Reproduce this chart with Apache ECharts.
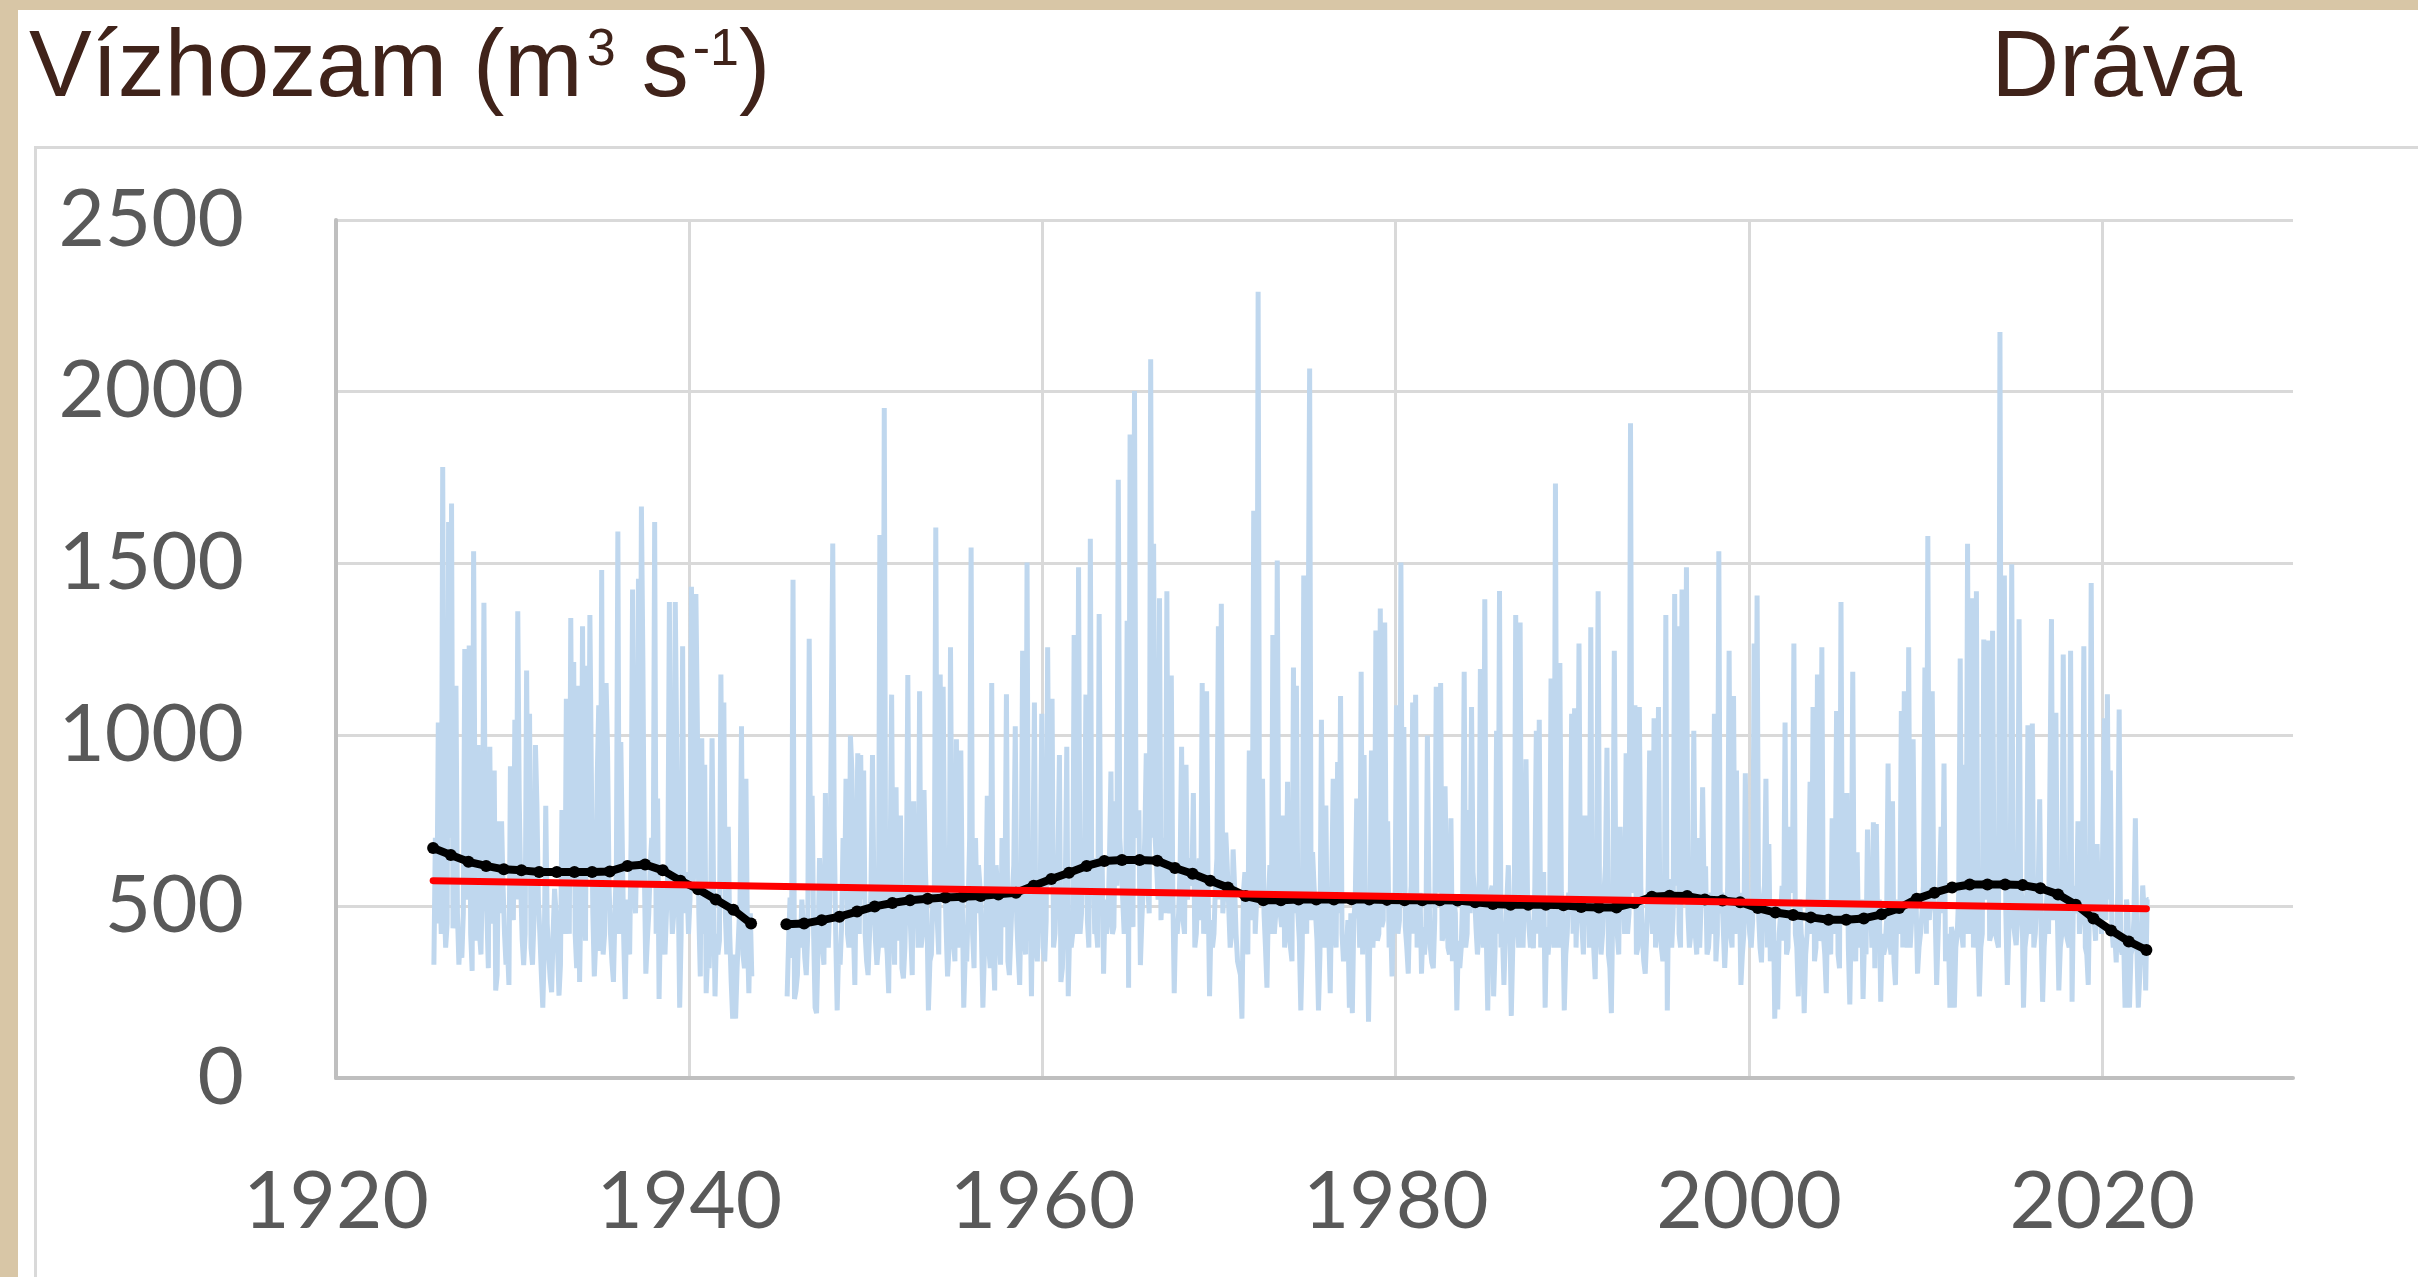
<!DOCTYPE html>
<html>
<head>
<meta charset="utf-8">
<title>Dráva vízhozam</title>
<script src="https://cdn.jsdelivr.net/npm/echarts@6/dist/echarts.min.js"></script>
<style>
  html, body { margin: 0; padding: 0; width: 2418px; height: 1277px; overflow: hidden; background: #d8c6a6; }
  .panel { position: absolute; left: 18px; top: 10px; right: 0; bottom: 0; background: #fff; }
  .frame { position: absolute; left: 34px; top: 146px; width: 2420px; height: 1200px; border: 3px solid #d9d9d9; }
  #chart { position: absolute; left: 0; top: 0; width: 2418px; height: 1277px; }
</style>
</head>
<body>
<div class="panel"></div>
<div class="frame"></div>
<div id="chart"></div>
<script>
// monthly discharge (m3/s), one row per year, Jan..Dec
// 1925-07 .. 1929-12
const flow1920s = [
  330, 700, 450, 1036, 620, 420,
  1780, 520, 380, 450, 1620, 700, 1674, 436, 520, 1143, 480, 330,
  420, 350, 480, 1250, 600, 520, 1260, 420, 312, 1535, 700, 400,
  970, 420, 360, 600, 1385, 620, 480, 320, 965, 450, 560, 896,
  255, 300, 748, 480, 748, 560, 420, 330, 380, 271, 908, 520
];
const flow1930s = [
  460, 1044, 520, 1360, 806, 560, 403, 329, 420, 1187, 600, 1061,
  380, 330, 460, 970, 797, 520, 420, 304, 205, 380, 793, 450,
  360, 290, 250, 420, 551, 480, 380, 240, 330, 781, 520, 420,
  1105, 480, 420, 1340, 620, 1212, 420, 320, 1143, 280, 560, 1316,
  520, 400, 1201, 600, 1349, 880, 480, 296, 400, 880, 1086, 370,
  1480, 360, 420, 1151, 954, 560, 420, 337, 280, 480, 620, 1592,
  420, 979, 682, 400, 230, 520, 420, 360, 700, 1423, 560, 480,
  700, 1455, 560, 1665, 1212, 600, 304, 400, 480, 620, 700, 560,
  1620, 420, 814, 230, 480, 560, 420, 360, 480, 620, 1387, 560,
  420, 480, 1387, 954, 560, 205, 420, 1258, 480, 600, 560, 420
];
// 1940-01 .. 1943-07
const flow1940s = [
  520, 1431, 560, 620, 1410, 1036, 480, 296, 990, 420, 913, 247,
  360, 320, 480, 990, 560, 238, 420, 360, 400, 1176, 560, 1094,
  480, 360, 732, 420, 280, 173, 360, 173, 320, 420, 520, 1025,
  360, 320, 872, 420, 247, 480, 296
];
// 1945-07 .. 1949-12
const flow1945s = [
  238, 400, 526, 350, 1452, 230,
  255, 300, 460, 380, 520, 440, 350, 300, 420, 1280, 560, 822,
  420, 205, 189, 380, 641, 520, 380, 330, 830, 450, 380, 520,
  520, 1557, 732, 420, 197, 380, 330, 440, 699, 520, 872, 420,
  380, 998, 896, 440, 271, 620, 946, 420, 941, 520, 896, 420
];
const flow1950s = [
  340, 300, 420, 560, 941, 520, 400, 330, 380, 1582, 560, 380,
  1952, 420, 360, 247, 620, 1117, 460, 330, 847, 400, 560, 765,
  320, 290, 380, 560, 1174, 540, 420, 300, 806, 460, 560, 380,
  1127, 380, 420, 839, 600, 480, 197, 340, 360, 520, 540, 1604,
  460, 360, 1176, 520, 1140, 620, 440, 296, 380, 1255, 560, 400,
  340, 987, 380, 520, 954, 520, 205, 360, 340, 500, 699, 1546,
  420, 320, 699, 480, 620, 560, 420, 205, 360, 480, 822, 380,
  320, 1151, 380, 255, 620, 540, 420, 330, 699, 440, 520, 1118,
  340, 300, 420, 540, 620, 1025, 460, 360, 271, 540, 1245, 420,
  360, 1502, 400, 540, 238, 620, 1094, 380, 340, 500, 540, 1061
];
const flow1960s = [
  380, 340, 460, 1255, 620, 560, 1105, 380, 420, 560, 640, 941,
  280, 320, 460, 560, 965, 238, 440, 380, 420, 1291, 580, 420,
  1488, 420, 480, 640, 620, 1117, 460, 380, 1571, 560, 640, 420,
  440, 380, 1352, 560, 640, 304, 520, 420, 460, 640, 893, 420,
  440, 806, 560, 1743, 700, 620, 520, 420, 460, 1332, 263, 1875,
  520, 440, 2002, 760, 700, 780, 329, 460, 560, 700, 946, 560,
  480, 2094, 700, 1557, 700, 620, 520, 1398, 460, 560, 700, 480,
  1418, 520, 480, 1173, 560, 247, 460, 420, 480, 620, 965, 460,
  420, 913, 520, 640, 620, 560, 830, 380, 420, 560, 640, 460,
  1151, 420, 480, 1127, 560, 238, 460, 380, 420, 560, 640, 1316
];
const flow1970s = [
  520, 1382, 480, 560, 715, 620, 500, 380, 420, 666, 560, 420,
  340, 320, 300, 173, 540, 600, 440, 360, 954, 460, 560, 1653,
  420, 520, 2291, 560, 540, 872, 480, 380, 263, 520, 620, 420,
  1291, 420, 480, 1508, 560, 480, 440, 765, 380, 480, 863, 420,
  380, 340, 1196, 480, 1143, 480, 400, 197, 380, 1464, 560, 420,
  420, 2067, 460, 658, 560, 480, 400, 197, 360, 1044, 520, 380,
  794, 380, 420, 247, 560, 872, 440, 380, 921, 480, 1113, 420,
  340, 403, 380, 460, 205, 480, 189, 460, 520, 814, 560, 380,
  1184, 360, 941, 420, 540, 164, 440, 954, 380, 500, 1304, 400,
  420, 1368, 440, 460, 1327, 540, 748, 380, 460, 296, 540, 480
];
const flow1980s = [
  1086, 420, 460, 1502, 540, 1023, 440, 380, 304, 500, 560, 1094,
  420, 1117, 380, 480, 540, 304, 440, 360, 420, 998, 560, 380,
  337, 320, 460, 1140, 600, 540, 1151, 400, 420, 850, 560, 380,
  360, 757, 340, 520, 480, 197, 400, 320, 380, 540, 1184, 380,
  420, 781, 480, 1081, 600, 540, 440, 360, 420, 1192, 560, 380,
  1395, 420, 197, 480, 540, 560, 238, 380, 1012, 420, 1419, 380,
  420, 271, 420, 520, 620, 460, 181, 380, 460, 1349, 560, 380,
  1327, 420, 380, 560, 929, 540, 440, 380, 460, 378, 560, 1012,
  420, 1044, 380, 520, 600, 205, 440, 360, 420, 1164, 560, 380,
  1732, 420, 380, 1209, 540, 480, 197, 360, 420, 540, 480, 1061
];
const flow1990s = [
  420, 1077, 380, 560, 1266, 520, 440, 360, 765, 480, 560, 380,
  1313, 420, 380, 288, 600, 1418, 440, 360, 420, 540, 620, 962,
  360, 320, 189, 520, 1245, 560, 420, 360, 732, 480, 560, 420,
  946, 420, 480, 1908, 540, 560, 1086, 360, 380, 1081, 560, 420,
  340, 304, 420, 560, 954, 520, 420, 1048, 380, 540, 1081, 420,
  380, 340, 460, 1349, 197, 580, 480, 380, 480, 1410, 560, 1316,
  420, 380, 1423, 560, 520, 1488, 480, 380, 420, 520, 1012, 420,
  360, 699, 380, 520, 847, 540, 617, 360, 380, 460, 540, 420,
  1061, 340, 420, 1535, 480, 540, 440, 321, 420, 560, 1245, 420,
  380, 1113, 420, 896, 460, 540, 271, 360, 420, 888, 560, 480
];
const flow2000s = [
  420, 380, 460, 1266, 520, 1406, 480, 380, 337, 520, 560, 872,
  380, 682, 340, 420, 520, 173, 400, 200, 420, 480, 560, 400,
  1036, 360, 380, 732, 560, 540, 1266, 420, 380, 238, 520, 420,
  380, 189, 360, 420, 560, 863, 420, 1081, 340, 380, 1176, 400,
  420, 1255, 420, 360, 247, 520, 420, 360, 757, 420, 520, 1069,
  360, 320, 1387, 460, 520, 560, 830, 380, 214, 480, 1184, 400,
  340, 658, 380, 420, 520, 230, 420, 360, 724, 460, 520, 380,
  745, 320, 740, 420, 520, 222, 420, 360, 380, 460, 916, 400,
  360, 806, 340, 271, 520, 480, 420, 1069, 380, 1127, 520, 380,
  1255, 380, 460, 987, 540, 520, 304, 380, 420, 480, 560, 1196
];
const flow2010s = [
  420, 1579, 460, 560, 1127, 520, 480, 271, 420, 560, 732, 480,
  916, 340, 380, 420, 205, 440, 420, 205, 380, 420, 540, 1222,
  420, 380, 913, 420, 1557, 480, 420, 1398, 380, 420, 1418, 420,
  238, 380, 420, 1278, 560, 520, 1275, 400, 420, 1303, 520, 420,
  420, 380, 2174, 560, 620, 1464, 480, 271, 420, 560, 1497, 460,
  420, 387, 460, 1337, 560, 520, 205, 380, 420, 1028, 520, 420,
  1033, 380, 420, 520, 560, 812, 420, 222, 380, 460, 540, 420,
  420, 1337, 460, 520, 1064, 480, 255, 380, 420, 1234, 540, 420,
  420, 380, 1245, 222, 560, 520, 480, 748, 420, 480, 540, 1258,
  380, 360, 271, 560, 1442, 520, 460, 400, 682, 480, 540, 420
];
// 2020-01 .. 2022-08
const flow2020s = [
  420, 1048, 460, 1118, 520, 896, 440, 380, 420, 337, 540, 1074,
  380, 360, 420, 205, 520, 480, 205, 360, 380, 460, 757, 380,
  205, 300, 420, 561, 480, 255, 520, 520
];

// smoothed (moving average) values, one per year, mid-year
const maStartA = 1925.5;
const maValuesA = [670, 650, 630, 618, 608, 605, 600, 600, 600, 600,
  602, 618, 622, 605, 575, 550, 520, 490, 450];
const maStartB = 1945.5;
const maValuesB = [448, 450, 460, 470, 485,
  500, 510, 518, 522, 526, 528, 530, 535, 540, 560,
  580, 598, 618, 632, 635, 635, 633, 612, 595, 575,
  555, 530, 518, 518, 520, 520, 520, 521, 520, 519,
  518, 518, 518, 517, 512, 507, 505, 505, 505, 503,
  498, 497, 497, 510, 528, 531, 530, 520, 517, 512,
  495, 482, 475, 468, 461, 461, 465, 477, 495, 522,
  540, 555, 564, 564, 564, 562, 553, 535, 505, 465,
  430, 398, 373];

// linear trend end points
const trendYears = [1925.5, 2022.5];
const trendValues = [575, 493];

const xTicks = { min: 1920, max: 2030.8, step: 20 };
const yTicks = { min: 0, max: 2500, step: 500 };

function toPoints(startYear, startMonth, values) {
  return values.map(function (v, i) {
    const k = startMonth - 1 + i;
    return [startYear + Math.floor(k / 12) + (k % 12 + 0.5) / 12, v];
  });
}

const flowData = [].concat(
  toPoints(1925, 7, flow1920s),
  toPoints(1930, 1, flow1930s),
  toPoints(1940, 1, flow1940s),
  [[1944.5, '-']],
  toPoints(1945, 7, flow1945s),
  toPoints(1950, 1, flow1950s),
  toPoints(1960, 1, flow1960s),
  toPoints(1970, 1, flow1970s),
  toPoints(1980, 1, flow1980s),
  toPoints(1990, 1, flow1990s),
  toPoints(2000, 1, flow2000s),
  toPoints(2010, 1, flow2010s),
  toPoints(2020, 1, flow2020s)
);

const maData = [].concat(
  maValuesA.map(function (v, i) { return [maStartA + i, v]; }),
  [[1944.5, '-']],
  maValuesB.map(function (v, i) { return [maStartB + i, v]; })
);

const trendData = trendYears.map(function (y, i) { return [y, trendValues[i]]; });

const chart = echarts.init(document.getElementById('chart'), null, { renderer: 'canvas' });

const brown = '#40231a';
const labelFont = 'Lato, "Open Sans", sans-serif';
const titleFont = '"Liberation Sans", Arial, sans-serif';

function plain(v) { return String(v); }

const option = {
  animation: false,
  backgroundColor: 'transparent',
  title: [
    {
      text: '{a|Vízhozam (m}{s|3}{a| s}{s|-1}{a|)}',
      left: 24,
      top: 10,
      textStyle: {
        fontWeight: 'normal',
        rich: {
          a: { fontSize: 94, fontFamily: titleFont, fontWeight: 'normal', color: brown, lineHeight: 110 },
          s: { fontSize: 52, fontFamily: titleFont, fontWeight: 'normal', color: brown, verticalAlign: 'top', lineHeight: 110, padding: [10, 0, 0, 4] }
        }
      }
    },
    {
      text: 'Dráva',
      right: 171,
      top: 10,
      textStyle: { fontSize: 94, fontFamily: titleFont, color: brown, fontWeight: 'normal', lineHeight: 110 }
    }
  ],
  grid: { left: 336, top: 220, right: 125, bottom: 199 },
  xAxis: {
    type: 'value',
    min: xTicks.min,
    max: xTicks.max,
    interval: xTicks.step,
    axisLine: { show: true, lineStyle: { color: '#bfbfbf', width: 4 } },
    axisTick: { show: false },
    axisLabel: {
      fontSize: 80, fontFamily: labelFont, color: '#595959', margin: 84,
      showMaxLabel: false, formatter: plain
    },
    splitLine: { show: true, showMaxLine: false, lineStyle: { color: '#d9d9d9', width: 3 } }
  },
  yAxis: {
    type: 'value',
    min: yTicks.min,
    max: yTicks.max,
    interval: yTicks.step,
    axisLine: { show: true, lineStyle: { color: '#bfbfbf', width: 4 } },
    axisTick: { show: false },
    axisLabel: { fontSize: 80, fontFamily: labelFont, color: '#595959', margin: 92, formatter: plain },
    splitLine: { show: true, lineStyle: { color: '#d9d9d9', width: 3 } }
  },
  series: [
    {
      name: 'Havi vízhozam',
      type: 'line',
      data: flowData,
      showSymbol: false,
      connectNulls: false,
      lineStyle: { color: '#bfd7ee', width: 5 },
      z: 2
    },
    {
      name: 'Mozgóátlag',
      type: 'line',
      data: maData,
      symbol: 'circle',
      symbolSize: 12,
      showSymbol: true,
      connectNulls: false,
      itemStyle: { color: '#000' },
      lineStyle: { color: '#000', width: 8 },
      z: 3
    },
    {
      name: 'Trend',
      type: 'line',
      data: trendData,
      showSymbol: false,
      lineStyle: { color: '#ff0000', width: 7, cap: 'round' },
      z: 4
    }
  ]
};

chart.setOption(option);
</script>
</body>
</html>
